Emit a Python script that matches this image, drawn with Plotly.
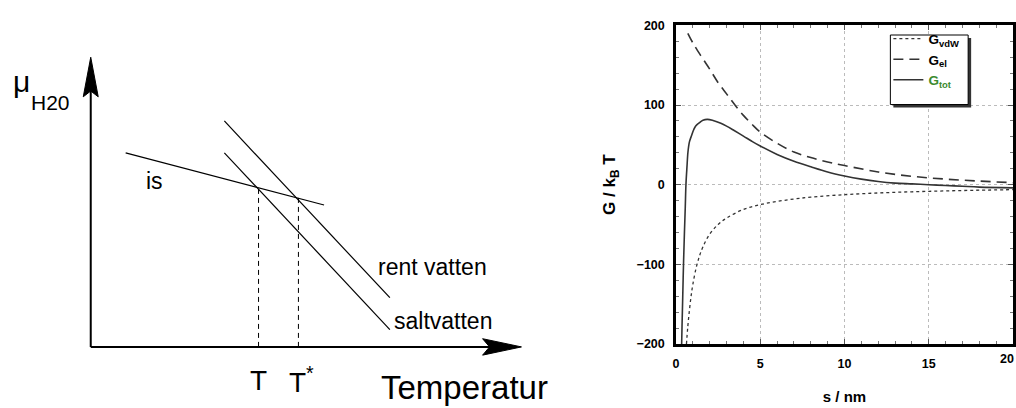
import plotly.graph_objects as go

FONT = "Liberation Sans, Arial, Helvetica, sans-serif"

# ---------------- Left schematic (chemical potential vs temperature) ----------------
# schematic units: origin at the axis corner, 1 unit ~ 1 px
ice_T = [35, 234]
ice_mu = [201, 147]
pure_T = [134, 300]
pure_mu = [234, 51]
salt_T = [134, 300]
salt_mu = [201, 18]
T_freeze = 168.3      # T   (salt water)
T_star = 208.3        # T*  (pure water)
mu_T = 165.3
mu_Tstar = 154.7

# ---------------- Right plot: interaction energy vs separation ----------------
s_vdw = [0.62, 0.7, 0.8, 0.9, 1.0, 1.2, 1.4, 1.6, 2.0, 2.5, 3.0, 4.0, 5.0, 6.0, 7.0,
         8.0, 10, 12, 14, 16, 18, 20]
g_vdw = [-200, -178, -157, -139, -125, -104, -89, -78, -62, -50, -42, -31, -25, -21,
         -18, -15.6, -12.5, -10.4, -8.9, -7.8, -6.9, -6.2]

s_el = [0.7, 1.0, 1.5, 2.0, 2.5, 3.0, 3.5, 4.0, 4.5, 5.0, 6.0, 7.0, 8.0, 9.0, 10,
        12, 14, 16, 18, 20]
g_el = [190, 178, 161, 145, 128, 114, 100, 87, 76, 66, 52, 41, 34, 28.5, 24,
        16, 10.5, 7, 4.5, 2.5]

s_tot = [0.33, 0.36, 0.40, 0.45, 0.50, 0.55, 0.59, 0.65, 0.71, 0.8, 0.93, 1.05, 1.18,
         1.4, 1.6, 1.87, 2.2, 2.66, 3.0, 3.45, 4.0, 4.5, 5.0, 6.0, 7.0, 8.0, 9.0, 10,
         11, 12, 13, 14, 15, 16, 17, 18, 20]
g_tot = [-205, -175, -140, -96, -60, -28, 0, 22, 41, 54, 62, 69, 74,
         78, 81, 82, 80.5, 77, 73.5, 68, 61, 54.5, 48.5, 38, 29.5, 22.5, 16, 11,
         7, 4, 2, 1, 0, -1, -2, -3, -4]

x_ticks = [0, 5, 10, 15, 20]
x_ticktext = ["0", "5", "10", "15", ""]   # the "20" sits at the page edge (see annotation)
y_ticks = [-200, -100, 0, 100, 200]

LINE_C = "#333333"
fig = go.Figure()

# schematic traces
for xs, ys in [(ice_T, ice_mu), (pure_T, pure_mu), (salt_T, salt_mu)]:
    fig.add_trace(go.Scatter(x=xs, y=ys, mode="lines", xaxis="x2", yaxis="y2",
                             line=dict(color="black", width=1.2), showlegend=False,
                             hoverinfo="skip"))
for tx, ty in [(T_freeze, mu_T), (T_star, mu_Tstar)]:
    fig.add_trace(go.Scatter(x=[tx, tx], y=[0, ty], mode="lines", xaxis="x2", yaxis="y2",
                             line=dict(color="black", width=1, dash="5px,4px"),
                             showlegend=False, hoverinfo="skip"))

# right plot traces
fig.add_trace(go.Scatter(x=s_vdw, y=g_vdw, mode="lines", name="<b>G</b><sub><b>vdW</b></sub>",
                         line=dict(color=LINE_C, width=1.3, dash="dot", shape="spline")))
fig.add_trace(go.Scatter(x=s_el, y=g_el, mode="lines", name="<b>G</b><sub><b>el</b></sub>",
                         line=dict(color=LINE_C, width=1.6, dash="10px,6px", shape="spline")))
fig.add_trace(go.Scatter(x=s_tot, y=g_tot, mode="lines",
                         name='<span style="color:#3b8a2e"><b>G</b><sub><b>tot</b></sub></span>',
                         line=dict(color=LINE_C, width=1.6, shape="spline")))

W, H = 1016, 408
px0, px1, py0, py1 = 675, 1013, 19, 349

fig.update_layout(
    width=W, height=H,
    margin=dict(l=0, r=0, t=0, b=0),
    paper_bgcolor="white", plot_bgcolor="white",
    font=dict(family=FONT, color="black"),
    xaxis=dict(domain=[px0 / W, px1 / W], range=[0, 20], tickvals=x_ticks,
               ticktext=x_ticktext,
               showline=True, linewidth=2.5, linecolor="black", mirror="allticks",
               ticks="inside", ticklen=5, tickwidth=1, tickcolor="#555",
               minor=dict(dtick=1, ticks="inside", ticklen=3, tickcolor="#777", showgrid=False),
               showgrid=True, gridcolor="#bbbbbb", griddash="dot", gridwidth=1,
               zeroline=False, tickfont=dict(size=12.5, weight="bold"),
               ticklabelstandoff=6,
               title=dict(text="<b>s / nm</b>", font=dict(size=15), standoff=22)),
    yaxis=dict(domain=[1 - py1 / H, 1 - py0 / H], range=[-200, 200], tickvals=y_ticks,
               showline=True, linewidth=2.5, linecolor="black", mirror="allticks",
               ticks="inside", ticklen=5, tickwidth=1, tickcolor="#555",
               minor=dict(dtick=20, ticks="inside", ticklen=3, tickcolor="#777", showgrid=False),
               showgrid=True, gridcolor="#bbbbbb", griddash="dot", gridwidth=1,
               zeroline=False, tickfont=dict(size=12.5, weight="bold"),
               ticklabelstandoff=6,
               title=dict(text="<b>G / k<sub>B</sub> T</b>", font=dict(size=17), standoff=17)),
    xaxis2=dict(domain=[0, 530 / W], range=[-88, 442], visible=False, anchor="y2"),
    yaxis2=dict(domain=[0, 1], range=[-56, 352], visible=False, anchor="x2"),
    legend=dict(x=888 / W, y=1 - 17 / H, xanchor="left", yanchor="top",
                bgcolor="rgba(0,0,0,0)", borderwidth=0,
                font=dict(size=13.5, family=FONT), itemwidth=30, tracegroupgap=0),
    showlegend=True,
)

# legend frame with drop shadow
fig.add_shape(type="rect", xref="paper", yref="paper",
              x0=893 / W, x1=971 / W, y0=1 - 104 / H, y1=1 - 32 / H,
              fillcolor="#333", line=dict(width=0), layer="above")
fig.add_shape(type="rect", xref="paper", yref="paper",
              x0=890 / W, x1=968 / W, y0=1 - 101 / H, y1=1 - 29 / H,
              fillcolor="white", line=dict(width=1, color="black"), layer="above")

# last x tick label, right-aligned at the page edge
fig.add_annotation(text="<b>20</b>", x=1, y=1 - 364 / H, xref="paper", yref="paper",
                   xanchor="right", yanchor="middle", showarrow=False,
                   font=dict(size=12.5, family=FONT, color="black"))

# schematic axes with arrows
fig.add_shape(type="line", xref="x2", yref="y2", x0=0, y0=0, x1=405, y1=0,
              line=dict(color="black", width=2))
fig.add_shape(type="line", xref="x2", yref="y2", x0=0, y0=0, x1=0, y1=270,
              line=dict(color="black", width=2))
fig.add_shape(type="path", xref="x2", yref="y2",
              path="M 432 0 L 393 8.5 L 400 0 L 393 -8.5 Z",
              fillcolor="black", line=dict(color="black", width=1))
fig.add_shape(type="path", xref="x2", yref="y2",
              path="M 0 300 L -7.5 259 L 0 265 L 7.5 259 Z",
              fillcolor="black", line=dict(color="black", width=1))


def ann(text, x, y, size, xanchor="left", xshift=0):
    fig.add_annotation(text=text, x=x, y=y, xref="x2", yref="y2", showarrow=False,
                       xanchor=xanchor, yanchor="middle", xshift=xshift,
                       font=dict(size=size, family=FONT, color="black"))


ann("μ", -69.5, 274.5, 30, "center")
ann("H20", -62, 253, 21)
ann("is", 53, 172, 23)
ann("rent vatten", 286, 83, 23)
ann("saltvatten", 302, 27, 23)
ann("T", T_freeze, -34.5, 28, "center")
ann("T<sup>*</sup>", T_star, -34.5, 28, "center", xshift=3)
ann("Temperatur", 289, -41.5, 33)

fig.write_html("out.html")
